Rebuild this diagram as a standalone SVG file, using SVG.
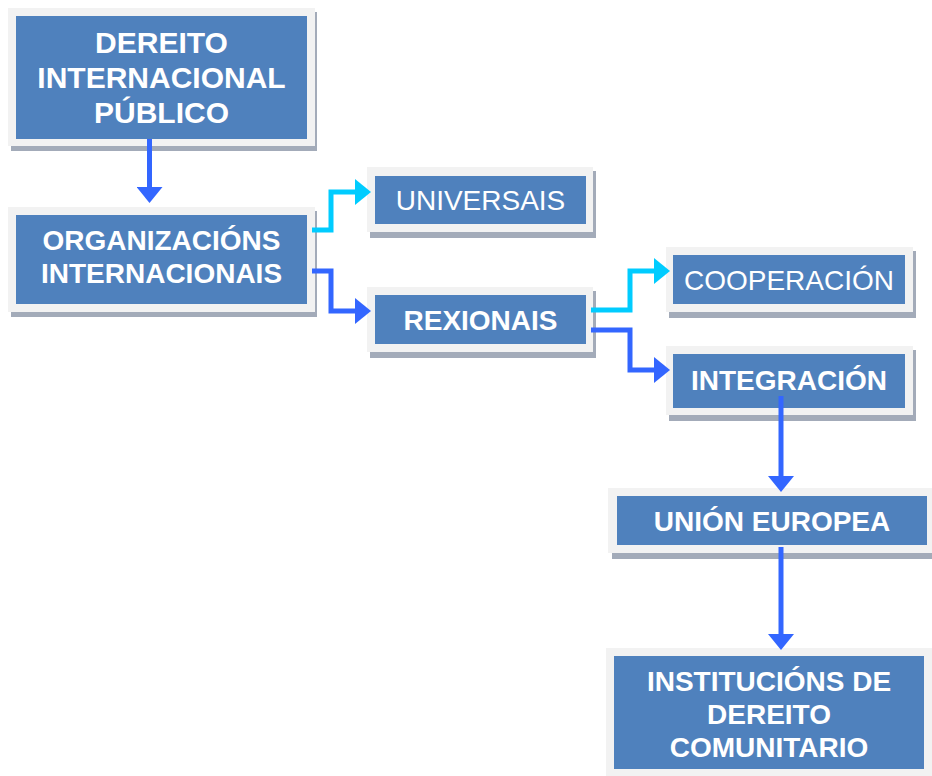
<svg xmlns="http://www.w3.org/2000/svg" width="932" height="776" viewBox="0 0 932 776">
<style>
.sh{fill:#A3ABB9}
.out{fill:#F2F2F2}
.in{fill:#4F81BD}
.t{font-family:"Liberation Sans",Arial,sans-serif;fill:#FFFFFF;text-anchor:middle;font-size:28px}
.b{font-weight:bold}
.big{font-size:30px}
.c{fill:none;stroke-width:5;stroke-linejoin:miter}
.blue{stroke:#3366FF}
.cyan{stroke:#00CCFF}
</style>
<defs>
<marker id="ab" markerUnits="userSpaceOnUse" markerWidth="17" markerHeight="26" refX="0" refY="13" orient="auto" viewBox="0 0 17 26">
<path d="M0,0 L16,13 L0,26 Z" fill="#3366FF"/>
</marker>
<marker id="ac" markerUnits="userSpaceOnUse" markerWidth="17" markerHeight="26" refX="0" refY="13" orient="auto" viewBox="0 0 17 26">
<path d="M0,0 L16,13 L0,26 Z" fill="#00CCFF"/>
</marker>
</defs>
<rect width="932" height="776" fill="#FFFFFF"/>
<g id="n1">
<rect class="sh" x="11" y="12" width="306" height="139"/>
<rect class="out" x="8" y="8" width="307" height="138"/>
<rect class="in" x="16" y="16" width="291" height="123"/>
<text class="t b big" x="161.5" y="53">DEREITO</text>
<text class="t b big" x="161.5" y="88">INTERNACIONAL</text>
<text class="t b big" x="161.5" y="123">PÚBLICO</text>
</g>
<g id="n2">
<rect class="sh" x="11" y="211" width="306" height="106"/>
<rect class="out" x="8" y="207" width="307" height="105"/>
<rect class="in" x="16" y="215" width="291" height="89"/>
<text class="t b" x="161.5" y="250">ORGANIZACIÓNS</text>
<text class="t b" x="161.5" y="283">INTERNACIONAIS</text>
</g>
<g id="n3">
<rect class="sh" x="370" y="171" width="226" height="67"/>
<rect class="out" x="367" y="167" width="226" height="65"/>
<rect class="in" x="375" y="176" width="211" height="48"/>
<text class="t" x="480.5" y="210">UNIVERSAIS</text>
</g>
<g id="n4">
<rect class="sh" x="370" y="291" width="226" height="67"/>
<rect class="out" x="367" y="287" width="226" height="65"/>
<rect class="in" x="375" y="295" width="211" height="49"/>
<text class="t b" x="480.5" y="330">REXIONAIS</text>
</g>
<g id="n5">
<rect class="sh" x="669" y="251" width="247" height="67"/>
<rect class="out" x="666" y="247" width="247" height="65"/>
<rect class="in" x="673" y="255" width="232" height="49"/>
<text class="t" x="789" y="290">COOPERACIÓN</text>
</g>
<g id="n6">
<rect class="sh" x="669" y="350" width="247" height="71"/>
<rect class="out" x="666" y="346" width="247" height="69"/>
<rect class="in" x="673" y="354" width="232" height="54"/>
<text class="t b" x="789" y="390">INTEGRACIÓN</text>
</g>
<g id="n7">
<rect class="sh" x="612" y="492" width="320" height="67"/>
<rect class="out" x="608" y="488" width="324" height="65"/>
<rect class="in" x="617" y="496" width="310" height="49"/>
<text class="t b" x="772" y="531">UNIÓN EUROPEA</text>
</g>
<g id="n8">
<rect class="out" x="606" y="648" width="326" height="128"/>
<rect class="in" x="614" y="656" width="310" height="113"/>
<text class="t b" x="769" y="691">INSTITUCIÓNS DE</text>
<text class="t b" x="769" y="724">DEREITO</text>
<text class="t b" x="769" y="757">COMUNITARIO</text>
</g>
<g id="connectors">
<path class="c blue" d="M149.5,139 V187" marker-end="url(#ab)"/>
<path class="c cyan" d="M312,230 H331 V192 H355" marker-end="url(#ac)"/>
<path class="c blue" d="M312,271 H331 V311 H355" marker-end="url(#ab)"/>
<path class="c cyan" d="M591,310 H630 V271 H654" marker-end="url(#ac)"/>
<path class="c blue" d="M591,330 H630 V370 H654" marker-end="url(#ab)"/>
<path class="c blue" d="M781,396 V476" marker-end="url(#ab)"/>
<path class="c blue" d="M781,547 V634" marker-end="url(#ab)"/>
</g>
</svg>
